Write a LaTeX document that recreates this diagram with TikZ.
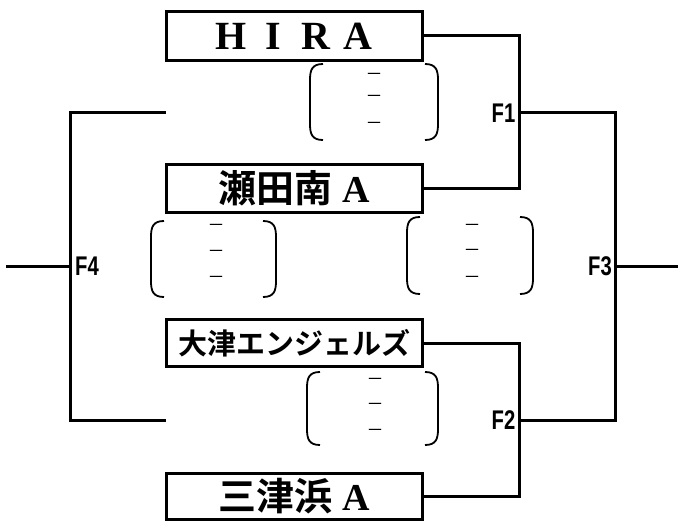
\documentclass[tikz,border=0pt]{standalone}
\usepackage{fontspec}
\usepackage{graphicx}
\setmainfont{Liberation Serif}
\newfontfamily\jp{Noto Sans CJK JP}[BoldFont={Noto Sans CJK JP Bold}]
\newfontfamily\flab{Liberation Sans}
\begin{document}
\begin{tikzpicture}[x=1pt,y=-1pt,
  team/.style={draw,line width=3pt,inner sep=0pt,minimum width=256pt,anchor=center},
  wire/.style={line width=3pt},
  paren/.style={line width=1.8pt},
  flabel/.style={inner sep=0pt,font=\flab\bfseries\fontsize{27}{27}\selectfont},
  scoredash/.style={inner sep=0pt,anchor=mid,font=\fontsize{24}{24}\selectfont}
]
\useasboundingbox (0,0) rectangle (678,524);
% team boxes
\node[team,minimum height=49pt] (hira) at (294.5,36)
  {\bfseries\fontsize{40}{40}\selectfont\makebox[42pt]{H}\makebox[42pt]{I}\makebox[42pt]{R}\makebox[42pt]{A}};
\node[team,minimum height=48pt] (seta) at (294.5,188.5)
  {\bfseries{\jp\fontsize{38}{38}\selectfont 瀬田南}\hspace{10pt}\fontsize{38}{38}\selectfont A};
\node[team,minimum height=47pt] (otsu) at (294.5,343)
  {\bfseries\jp\fontsize{29}{29}\selectfont 大津エンジェルズ};
\node[team,minimum height=46pt] (mitsu) at (294.5,496)
  {\bfseries{\jp\fontsize{38}{38}\selectfont 三津浜}\hspace{10pt}\fontsize{38}{38}\selectfont A};
% junctions
\coordinate (f1) at (519,113);
\coordinate (f2) at (519,420);
\coordinate (f3) at (615,266.5);
\coordinate (f4) at (70,266.5);
\coordinate (l1) at (166,113);
\coordinate (l2) at (166,420);
\coordinate (rend) at (678,266.5);
\coordinate (lend) at (6,266.5);
% connectors
\draw[wire] (hira.east) -| (f1) |- (seta.east);
\draw[wire] (otsu.east) -| (f2) |- (mitsu.east);
\draw[wire] (f1) -| (f3) |- (f2);
\draw[wire] (f3) -- (rend);
\draw[wire] (l1) -| (f4) |- (l2);
\draw[wire] (f4) -- (lend);
% labels
\node[flabel,anchor=east] (lf1) at (515.5,113) {\scalebox{0.75}[1]{F1}};
\node[flabel,anchor=east] (lf2) at (515.5,420) {\scalebox{0.75}[1]{F2}};
\node[flabel,anchor=east] (lf3) at (612,266.5) {\scalebox{0.75}[1]{F3}};
\node[flabel,anchor=west] (lf4) at (75,266.5) {\scalebox{0.75}[1]{F4}};
% score brackets
\foreach \L/\R/\T/\B in {310/438/64/140, 151/276/221/297, 407/533/217/294, 307/438/372/445}{
  \draw[paren] (\L+13,\T) .. controls (\L+2,\T) and (\L,\T+6) .. (\L,\T+16) -- (\L,\B-16) .. controls (\L,\B-6) and (\L+2,\B) .. (\L+13,\B);
  \draw[paren] (\R-13,\T) .. controls (\R-2,\T) and (\R,\T+6) .. (\R,\T+16) -- (\R,\B-16) .. controls (\R,\B-6) and (\R-2,\B) .. (\R-13,\B);
}
% dashes
\node[scoredash] (d11) at (374,77) {–};
\node[scoredash] (d12) at (374,99) {–};
\node[scoredash] (d13) at (374,126) {–};
\node[scoredash] (d21) at (216,228) {–};
\node[scoredash] (d22) at (216,254) {–};
\node[scoredash] (d23) at (216,280) {–};
\node[scoredash] (d31) at (472,228) {–};
\node[scoredash] (d32) at (472,253) {–};
\node[scoredash] (d33) at (472,280) {–};
\node[scoredash] (d41) at (375,382) {–};
\node[scoredash] (d42) at (375,407) {–};
\node[scoredash] (d43) at (375,433) {–};
\end{tikzpicture}
\end{document}
